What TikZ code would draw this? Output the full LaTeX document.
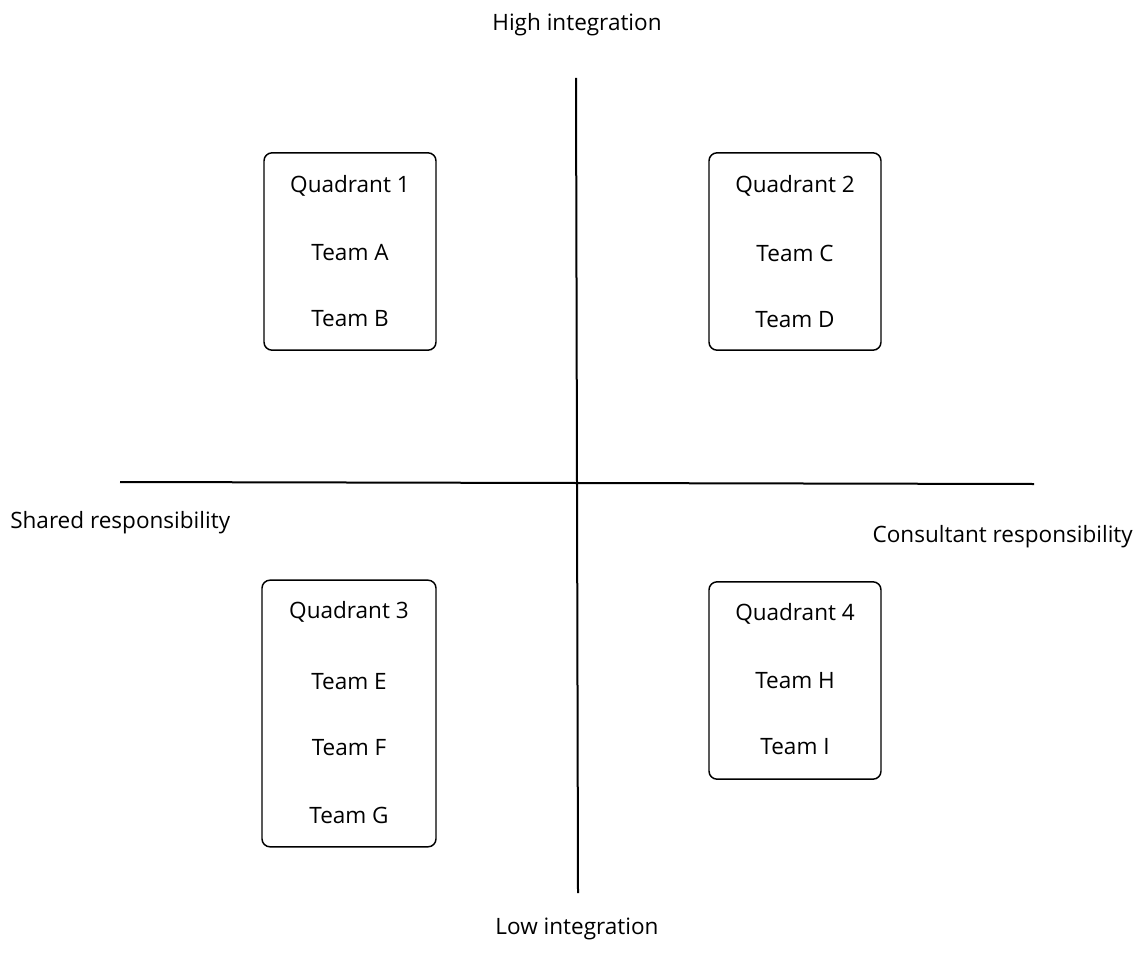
\documentclass[tikz,border=0pt]{standalone}
\usepackage{fontspec}
\setmainfont{Open Sans}
\usepackage{tikz}

\begin{document}
\begin{tikzpicture}[x=0.75pt,y=0.75pt,yscale=-1,xscale=1]
\tikzset{
  quadbox/.style={draw, line width=1.1pt, rounded corners=6pt, minimum width=129pt, minimum height=148pt, inner sep=0pt},
  label/.style={inner sep=0.75pt, font=\fontsize{16.9}{20}\selectfont},
  axis/.style={line width=1.5pt}
}
\useasboundingbox (0,0) rectangle (1137,952);

%Axes
\coordinate (vtop) at (576,78);
\coordinate (vbot) at (578,893);
\coordinate (hleft) at (120,482);
\coordinate (hright) at (1034,484);
\draw [axis] (vtop) -- (vbot);
\draw [axis] (hleft) -- (hright);

% Axis labels
\node [label] (high) at (577,25) {High integration};
\node [label] (low) at (577,929) {Low integration};
\node [label, anchor=west] (shared) at (9,523) {Shared responsibility};
\node [label, anchor=east] (consult) at (1134,537) {Consultant responsibility};

% Quadrant 1
\node [quadbox] (qone) at (350,251.5) {};
\node [label] (qonetitle) at (350,186) {Quadrant 1};
\node [label] (teama) at (350,253) {Team A};
\node [label] (teamb) at (350,319) {Team B};

% Quadrant 2
\node [quadbox] (qtwo) at (795,251.5) {};
\node [label] (qtwotitle) at (795,186) {Quadrant 2};
\node [label] (teamc) at (795,253) {Team C};
\node [label] (teamd) at (795,320) {Team D};

% Quadrant 3
\node [quadbox, minimum width=130.5pt, minimum height=200pt] (qthree) at (349,713.5) {};
\node [label] (qthreetitle) at (349,612) {Quadrant 3};
\node [label] (teame) at (349,682) {Team E};
\node [label] (teamf) at (349,748) {Team F};
\node [label] (teamg) at (349,815) {Team G};

% Quadrant 4
\node [quadbox] (qfour) at (795,680.5) {};
\node [label] (qfourtitle) at (795,614) {Quadrant 4};
\node [label] (teamh) at (795,681) {Team H};
\node [label] (teami) at (795,747) {Team I};

\end{tikzpicture}
\end{document}
